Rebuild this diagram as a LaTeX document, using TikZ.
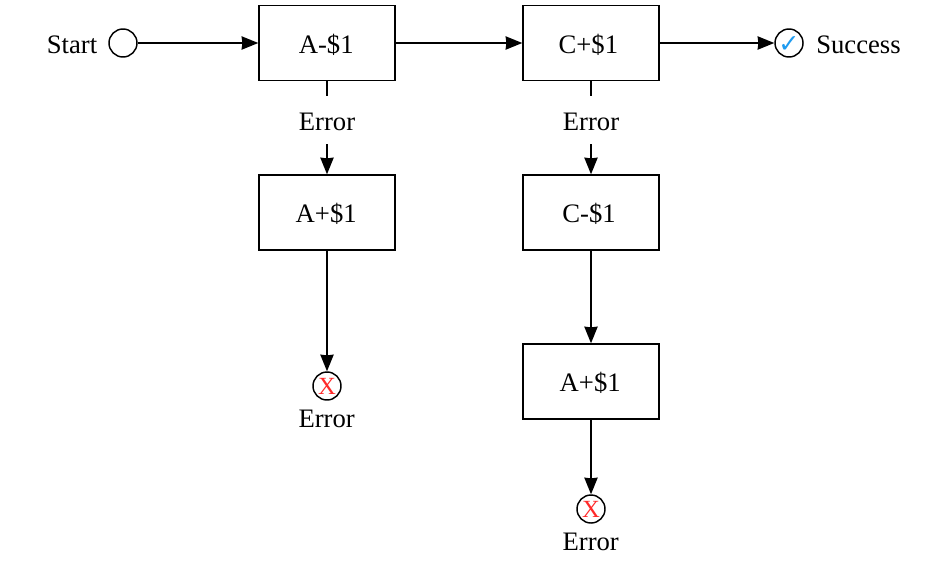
\documentclass[tikz,border=0pt]{standalone}
\usepackage{fontspec}
\setmainfont{Liberation Serif}
\newfontfamily\symfont{DejaVu Sans}
\usetikzlibrary{arrows.meta}
\definecolor{tickblue}{HTML}{1E9BF0}
\definecolor{xred}{HTML}{FF2A2A}
\newcommand{\boxtxt}[2]{\kern#1 #2}
\newcommand{\evttxt}[2]{\makebox[0pt]{\raisebox{#1}[0pt][0pt]{#2}}}
\tikzset{
  box/.style={draw=black,line width=1.1pt,minimum width=102pt,minimum height=56.25pt,inner sep=0pt,fill=white,text height=15pt,text depth=0pt},
  evt/.style={draw=black,line width=1.1pt,circle,minimum size=21pt,inner sep=0pt,fill=white},
  lbl/.style={inner sep=0pt},
  gaplbl/.style={inner sep=0pt,minimum height=36pt,minimum width=30pt,text height=15.4pt,text depth=0pt},
  flow/.style={draw=black,line width=1.1pt,-{Stealth[length=12.5pt,width=10pt,inset=0.6pt]}},
  plainl/.style={draw=black,line width=1.1pt},
}
\begin{document}
\begin{tikzpicture}[x=0.75pt,y=-0.75pt,font=\fontsize{20}{24}\selectfont]
\useasboundingbox (0,0) rectangle (948,572);
\node[evt] (start) at (123,43) {};
\node[lbl,anchor=east] (startl) at (97.5,44.4) {Start};
\node[box] (a1) at (327,43) {\boxtxt{-1.2pt}{A-\$1}};
\node[box] (c1) at (591,43) {\boxtxt{-4pt}{C+\$1}};
\node[evt] (ok) at (789,43) {\evttxt{-7pt}{\fontsize{19}{20}\symfont\textcolor{tickblue}{✓}}};
\node[lbl,anchor=west] (okl) at (816,44.4) {Success};
\node[gaplbl] (e1) at (327,120) {Error};
\node[gaplbl] (e2) at (591,120) {Error};
\node[box] (a2) at (327,212.5) {\boxtxt{-1.2pt}{A+\$1}};
\node[box] (c2) at (591,212.5) {\boxtxt{-3pt}{C-\$1}};
\node[box] (a3) at (591,381.5) {\boxtxt{-1.2pt}{A+\$1}};
\node[evt] (x1) at (327,386) {\evttxt{-6.2pt}{\fontsize{18.5}{20}\selectfont\textcolor{xred}{X}}};
\node[evt] (x2) at (591,509) {\evttxt{-6.2pt}{\fontsize{18.5}{20}\selectfont\textcolor{xred}{X}}};
\node[lbl] (x1l) at (326.7,419) {Error};
\node[lbl] (x2l) at (590.7,542) {Error};
\draw[flow] (start) -- (a1);
\draw[flow] (a1) -- (c1);
\draw[flow] (c1) -- (ok);
\draw[plainl] (a1) -- (e1);
\draw[flow] (e1) -- (a2);
\draw[plainl] (c1) -- (e2);
\draw[flow] (e2) -- (c2);
\draw[flow] (a2) -- (x1);
\draw[flow] (c2) -- (a3);
\draw[flow] (a3) -- (x2);
\end{tikzpicture}
\end{document}
